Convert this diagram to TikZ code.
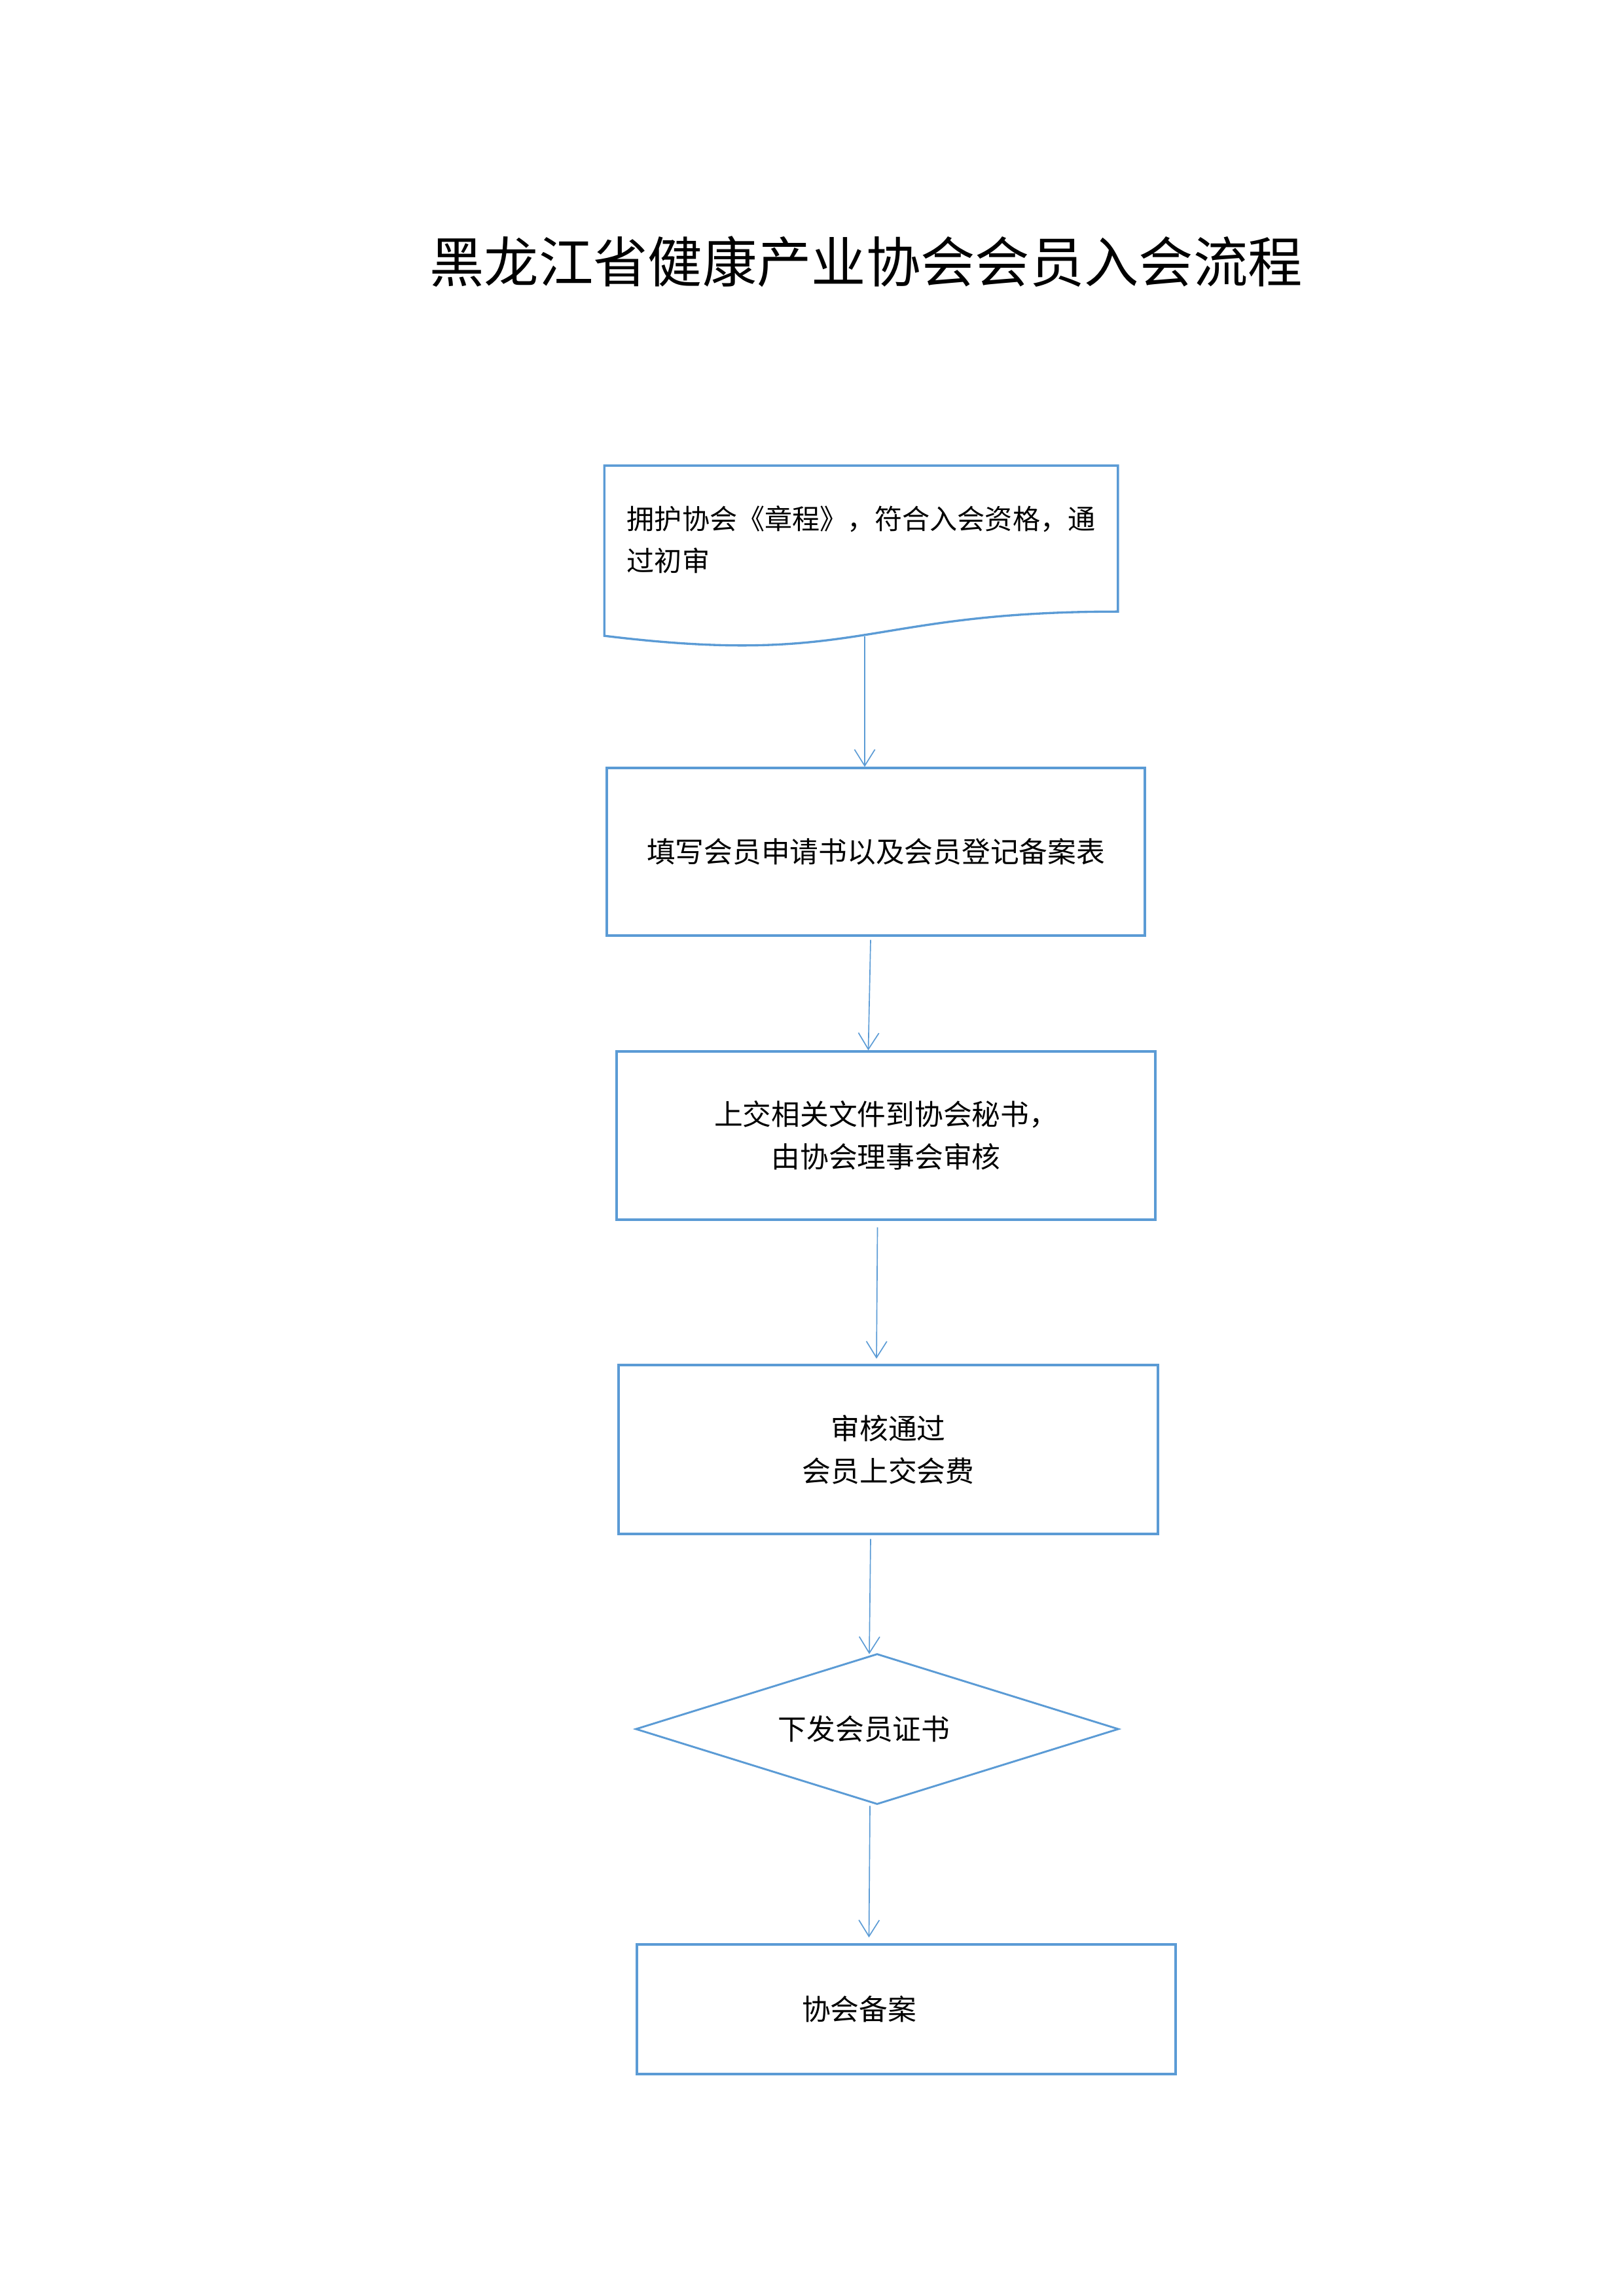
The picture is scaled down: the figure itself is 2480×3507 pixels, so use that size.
\documentclass[tikz,border=0pt]{standalone}
\usepackage{fontspec}
\newfontfamily\cjk{Noto Sans CJK SC}
\usetikzlibrary{arrows.meta,calc,shapes.geometric}
\definecolor{boxblue}{RGB}{91,155,213}
\begin{document}
\begin{tikzpicture}[x=0.24pt,y=-0.24pt,
  boxline/.style={draw=boxblue,line width=0.8pt},
  bodytext/.style={inner sep=0pt,font=\cjk\fontsize{10.5}{15.6}\selectfont},
  stepbox/.style={boxline,rectangle,inner sep=0pt,align=center,bodytext},
  flow/.style={draw=boxblue,line width=0.4pt,-{Straight Barb[length=6pt,width=7.5pt]}}]
\useasboundingbox (0,0) rectangle (2480,3507);

% title
\node[inner sep=0pt,font=\cjk\fontsize{20}{24}\selectfont] (title) at (1323,400) {黑龙江省健康产业协会会员入会流程};

% document shape
\node[inner sep=0pt,minimum width={783*0.24pt},minimum height={278*0.24pt}] (n1) at (1315.5,851) {};
\draw[boxline] (n1.north west) -- (n1.north east) -- ($(n1.north east)+(0,223)$)
  .. controls ($(n1.north)+(0,223)$) and ($(n1.north)+(0,308)$) .. ($(n1.north west)+(0,260)$) -- cycle;
\node[inner sep=0pt,font=\cjk\fontsize{10.1}{15.4}\selectfont,anchor=west,align=left] (t1) at (957,824) {拥护协会《章程》，符合入会资格，通\\过初审};
\coordinate (n1b) at (1321,972);

% boxes
\node[stepbox,minimum width={822*0.24pt},minimum height={256*0.24pt}] (n2) at (1338,1301) {填写会员申请书以及会员登记备案表};
\node[stepbox,minimum width={823*0.24pt},minimum height={257*0.24pt}] (n3) at (1353.5,1734.5) {上交相关文件到协会秘书，\\由协会理事会审核};
\node[stepbox,minimum width={824*0.24pt},minimum height={258*0.24pt}] (n4) at (1357,2214) {审核通过\\会员上交会费};
\node[boxline,line width=0.7pt,diamond,aspect=3.2,inner sep=0pt,minimum width={738*0.24pt},minimum height={230*0.24pt},
  label={[bodytext,xshift={-20*0.24pt}]center:下发会员证书}] (n6) at (1340,2641) {};
\node[stepbox,minimum width={823*0.24pt},minimum height={198*0.24pt},
  label={[bodytext,xshift={-72*0.24pt}]center:协会备案}] (n5) at (1384.5,3069) {};

% connectors
\draw[flow] (n1b) -- (n1b |- n2.north);
\draw[flow] ($(n2.south)+(-8,5)$) -- ($(n3.north)+(-27,0)$);
\draw[flow] ($(n3.south)+(-13,10)$) -- ($(n4.north)+(-18,-8)$);
\draw[flow] ($(n4.south)+(-27,6)$) -- ($(n6.north)+(-12,2)$);
\draw[flow] ($(n6.south)+(-11,1)$) -- ($(n5.north)+(-57,-9)$);
\end{tikzpicture}
\end{document}
